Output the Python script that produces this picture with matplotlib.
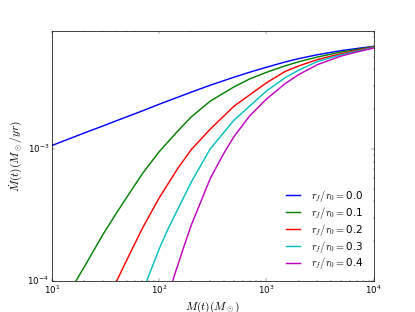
import matplotlib
matplotlib.use('Agg')
import matplotlib.pyplot as plt

# values (log-log axes)
ratios = ['0.0', '0.1', '0.2', '0.3', '0.4']
colors = ['b', 'g', 'r', 'c', 'm']

m_00 = [10, 15, 20, 30, 50, 70, 100, 150, 200, 300, 500, 700, 1000, 1500,
        2000, 3000, 5000, 7000, 10000]
mdot_00 = [1.06e-3, 1.205e-3, 1.318e-3, 1.493e-3, 1.751e-3, 1.942e-3, 2.178e-3,
           2.466e-3, 2.692e-3, 3.037e-3, 3.494e-3, 3.811e-3, 4.152e-3, 4.558e-3,
           4.828e-3, 5.172e-3, 5.556e-3, 5.765e-3, 5.98e-3]

m_01 = [16.8, 20, 30, 40, 50, 70, 100, 150, 200, 300, 500, 700, 1000, 1500,
        2000, 3000, 5000, 7000, 10000]
mdot_01 = [1.0e-4, 1.27e-4, 2.25e-4, 3.26e-4, 4.30e-4, 6.50e-4, 9.50e-4,
           1.37e-3, 1.75e-3, 2.30e-3, 2.95e-3, 3.39e-3, 3.80e-3, 4.26e-3,
           4.57e-3, 4.97e-3, 5.42e-3, 5.67e-3, 5.95e-3]

m_02 = [40.3, 50, 70, 100, 150, 200, 300, 500, 700, 1000, 1500, 2000, 3000,
        5000, 7000, 10000]
mdot_02 = [1.0e-4, 1.439e-4, 2.507e-4, 4.24e-4, 7.15e-4, 9.89e-4, 1.411e-3,
           2.107e-3, 2.566e-3, 3.162e-3, 3.864e-3, 4.247e-3, 4.754e-3, 5.264e-3,
           5.578e-3, 5.902e-3]

m_03 = [76.7, 100, 120, 150, 200, 300, 500, 700, 1000, 1500, 2000, 3000, 5000,
        7000, 10000]
mdot_03 = [1.0e-4, 1.737e-4, 2.43e-4, 3.513e-4, 5.62e-4, 1.0e-3, 1.651e-3,
           2.111e-3, 2.742e-3, 3.464e-3, 3.947e-3, 4.590e-3, 5.171e-3, 5.500e-3,
           5.851e-3]

m_04 = [134, 150, 175, 200, 300, 400, 500, 700, 1000, 1500, 2000, 3000, 5000,
        7000, 10000]
mdot_04 = [1.0e-4, 1.326e-4, 1.935e-4, 2.649e-4, 5.96e-4, 9.2e-4, 1.24e-3,
           1.78e-3, 2.378e-3, 3.124e-3, 3.65e-3, 4.35e-3, 5.056e-3, 5.425e-3,
           5.80e-3]

masses = [m_00, m_01, m_02, m_03, m_04]
rates = [mdot_00, mdot_01, mdot_02, mdot_03, mdot_04]

plt.style.use('classic')
plt.rcParams['mathtext.fontset'] = 'cm'

fig, ax = plt.subplots(figsize=(8, 6.015))
for m, md, c, r in zip(masses, rates, colors, ratios):
    ax.plot(m, md, color=c, lw=2, label=r'$r_f/r_0=$' + r)

ax.set_xscale('log')
ax.set_yscale('log')
ax.set_xlim(10, 1e4)
ax.set_ylim(1e-4, 7.8e-3)
ax.set_xlabel(r'$M(t)(M_\odot)$', fontsize=16)
ax.set_ylabel(r'$\dot{M}(t)(M_\odot/yr)$', fontsize=16)
ax.legend(loc='lower right', frameon=False, labelspacing=0.1)

fig.savefig('out.png', dpi=51.875)
